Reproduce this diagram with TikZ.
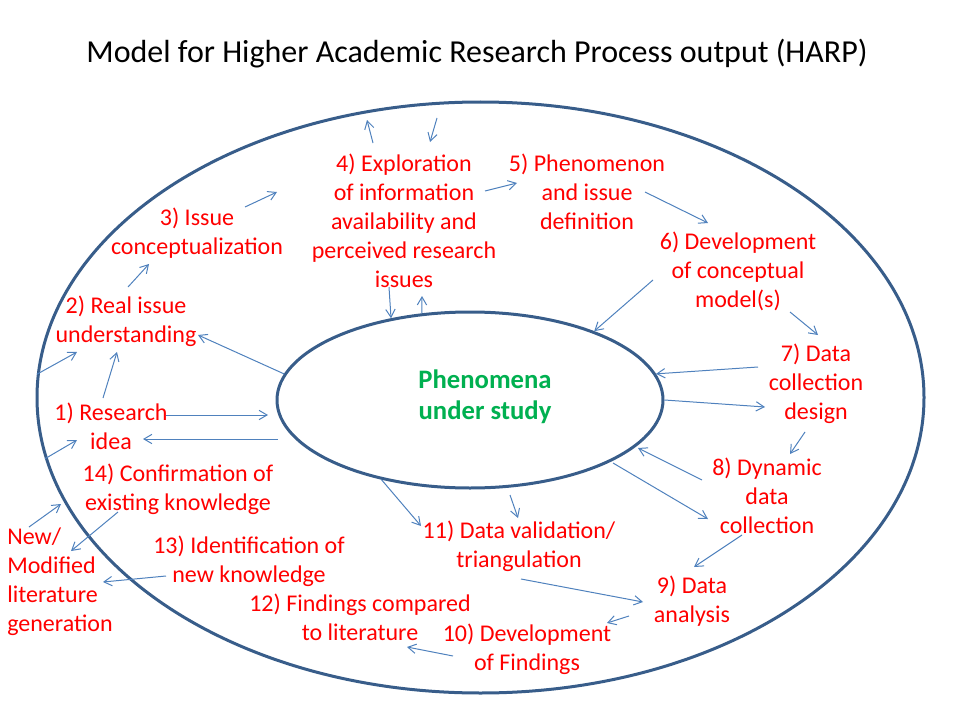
\documentclass[tikz,border=0pt]{standalone}
\usepackage{fontspec}
\setmainfont{Carlito}
\usepackage{tikz}
\usetikzlibrary{arrows.meta,shapes.geometric}
\definecolor{ringblue}{RGB}{56,93,138}
\definecolor{flowblue}{RGB}{79,129,189}
\definecolor{stagered}{RGB}{255,0,0}
\definecolor{coregreen}{RGB}{0,176,80}
\tikzset{
  ring/.style={ellipse, draw=ringblue, line width=2.25pt, inner sep=0pt},
  stage/.style={align=center, text=stagered, inner sep=0pt, font=\fontsize{18}{21.75}\selectfont},
  core/.style={align=center, text=coregreen, inner sep=0pt, font=\fontsize{20}{23.5}\selectfont\bfseries},
  heading/.style={inner sep=0pt, font=\fontsize{24}{29}\selectfont},
  flow/.style={draw=flowblue, line width=0.75pt, -{Straight Barb[length=6pt,width=7pt]}}
}

\begin{document}
\begin{tikzpicture}[x=0.75pt, y=-0.75pt]
  \useasboundingbox (0,0) rectangle (953,717);
  \node[heading, anchor=base] (title) at (477,63) {Model for Higher Academic Research Process output (HARP)};

  % outer and inner ring
  \node[ring, minimum width=665.25pt, minimum height=443.25pt] (outer) at (480.5,397.5) {};
  \node[ring, minimum width=289.5pt, minimum height=132pt] (inner) at (470,400) {};
  \node[core] (core) at (485,397) {Phenomena\\under study};

  % stages round the ring
  \node[stage] (s1) at (111,426) {1) Research\\idea};
  \node[stage] (s2) at (126,321.5) {2) Real issue\\understanding};
  \node[stage] (s3) at (197,233.5) {3) Issue\\conceptualization};
  \node[stage] (s4) at (404,221) {4) Exploration\\of information\\availability and\\perceived research\\issues};
  \node[stage] (s5) at (587,191.5) {5) Phenomenon\\and issue\\definition};
  \node[stage] (s6) at (738,271.5) {6) Development\\of conceptual\\model(s)};
  \node[stage] (s7) at (816,383.5) {7) Data\\collection\\design};
  \node[stage] (s8) at (767,496) {8) Dynamic\\data\\collection};
  \node[stage] (s9) at (692,601) {9) Data\\analysis};
  \node[stage] (s10) at (527,649.5) {10) Development\\of Findings};
  \node[stage] (s11) at (519,546) {11) Data validation/\\triangulation};
  \node[stage] (s12) at (360,617.5) {12) Findings compared\\to literature};
  \node[stage] (s13) at (249,561.5) {13) Identification of\\new knowledge};
  \node[stage] (s14) at (178,489.5) {14) Confirmation of\\existing knowledge};
  \node[stage, align=left, anchor=west] (newlit) at (7,582) {New/\\Modified\\literature\\generation};

  % arrow ends
  \coordinate (up4a) at (373,143);  \coordinate (up4b) at (367,120);
  \coordinate (dn4a) at (437,118);  \coordinate (dn4b) at (430,142);
  \coordinate (c34a) at (245,207);  \coordinate (c34b) at (277,192);
  \coordinate (c23a) at (128,287);  \coordinate (c23b) at (149,264);
  \coordinate (c2in) at (198,335);  \coordinate (c2out) at (77,352);
  \coordinate (c12a) at (103,398);  \coordinate (c12b) at (117,352);
  \coordinate (c4dn) at (389,287);  \coordinate (c4up) at (422,296);
  \coordinate (c45a) at (485,191);  \coordinate (c45b) at (517,183);
  \coordinate (c56a) at (645,192);  \coordinate (c56b) at (708,223);
  \coordinate (c6in) at (653,280);
  \coordinate (c67a) at (790,312);  \coordinate (c67b) at (818,335);
  \coordinate (c7in) at (758,367);  \coordinate (c7out) at (765,407);
  \coordinate (c78a) at (805,432);  \coordinate (c78b) at (790,454);
  \coordinate (c8ina) at (702,480); \coordinate (c8inb) at (638,448);
  \coordinate (c8outa) at (613,463); \coordinate (c8outb) at (708,519);
  \coordinate (c89a) at (742,535);  \coordinate (c89b) at (694,567);
  \coordinate (c119a) at (521,579); \coordinate (c119b) at (643,602);
  \coordinate (c910a) at (629,616); \coordinate (c910b) at (607,623);
  \coordinate (c1012a) at (453,656); \coordinate (c1012b) at (407,647);
  \coordinate (c11in) at (421,526);
  \coordinate (c11a) at (510,495);  \coordinate (c11b) at (518,518);
  \coordinate (c13a) at (166,576);  \coordinate (c13b) at (103,582);
  \coordinate (c14a) at (118,512);  \coordinate (c14b) at (71,551);
  \coordinate (cnewa) at (29,527);  \coordinate (cnewb) at (61,504);
  \coordinate (c1out) at (77,440);
  \coordinate (c1a) at (166,415);   \coordinate (c1b) at (268,415);
  \coordinate (c1c) at (278,439);   \coordinate (c1d) at (143,439);

  % arrows
  \draw[flow] (up4a) -- (up4b);
  \draw[flow] (dn4a) -- (dn4b);
  \draw[flow] (c34a) -- (c34b);
  \draw[flow] (c23a) -- (c23b);
  \draw[flow] (inner.172) -- (c2in);
  \draw[flow] (outer.177) -- (c2out);
  \draw[flow] (c12a) -- (c12b);
  \draw[flow] (c4dn) -- (inner.134);
  \draw[flow] (inner.119) -- (c4up);
  \draw[flow] (c45a) -- (c45b);
  \draw[flow] (c56a) -- (c56b);
  \draw[flow] (c6in) -- (inner.29);
  \draw[flow] (c67a) -- (c67b);
  \draw[flow] (c7in) -- (inner.8);
  \draw[flow] (inner.0) -- (c7out);
  \draw[flow] (c78a) -- (c78b);
  \draw[flow] (c8ina) -- (c8inb);
  \draw[flow] (c8outa) -- (c8outb);
  \draw[flow] (c89a) -- (c89b);
  \draw[flow] (c119a) -- (c119b);
  \draw[flow] (c910a) -- (c910b);
  \draw[flow] (c1012a) -- (c1012b);
  \draw[flow] (inner.222) -- (c11in);
  \draw[flow] (c11a) -- (c11b);
  \draw[flow] (c13a) -- (c13b);
  \draw[flow] (c14a) -- (c14b);
  \draw[flow] (cnewa) -- (cnewb);
  \draw[flow] (outer.188) -- (c1out);
  \draw[flow] (c1a) -- (c1b);
  \draw[flow] (c1c) -- (c1d);
\end{tikzpicture}
\end{document}
